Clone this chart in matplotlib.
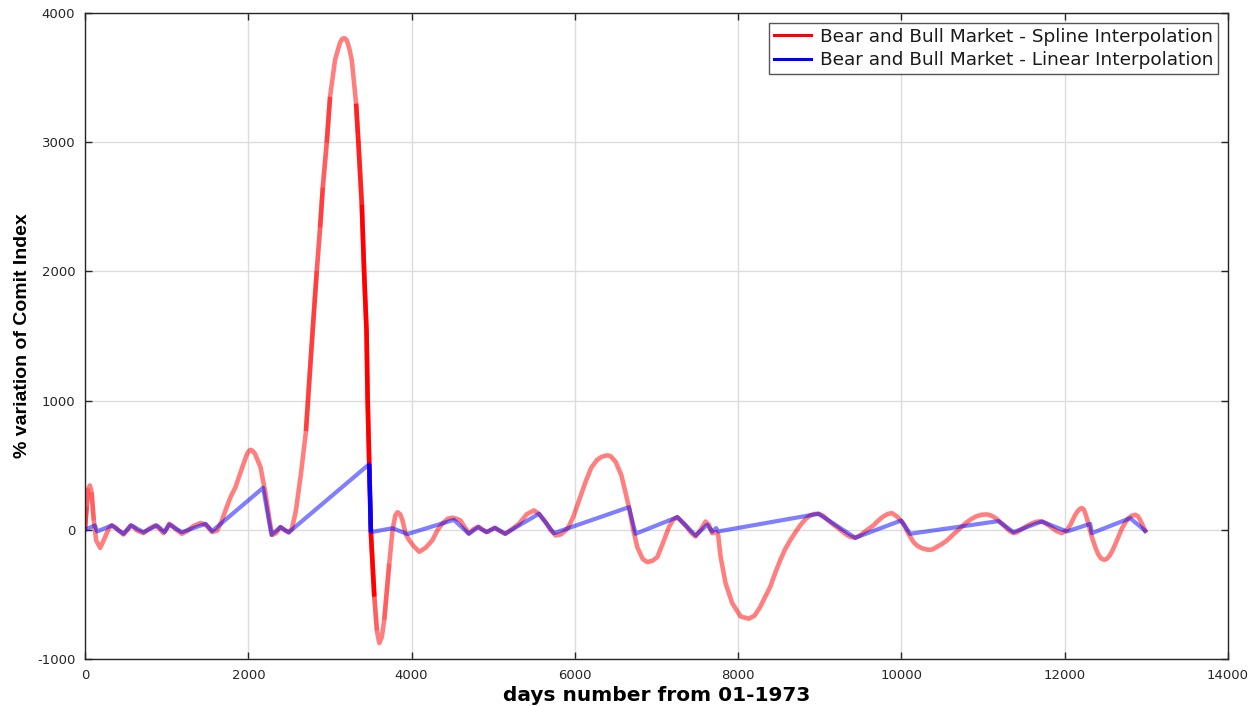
import numpy as np
import matplotlib
matplotlib.use("Agg")
import matplotlib.pyplot as plt
from matplotlib.collections import LineCollection
from matplotlib.lines import Line2D

plt.rcParams["axes.unicode_minus"] = False

# spline curve (day, % variation)
spline_days = [0, 20, 40, 59, 80, 107, 137, 186, 246, 290, 328, 370, 410, 471, 515, 561, 600, 635,
               716, 790, 859, 910, 961, 1000, 1031, 1070, 1104, 1186, 1250, 1330, 1414, 1476, 1520,
               1557, 1618, 1670, 1720, 1780, 1843, 1924, 1980, 2000, 2027, 2050, 2080, 2149, 2211,
               2260, 2292, 2341, 2394, 2447, 2495, 2534, 2583, 2644, 2706, 2746, 2787, 2838, 2879,
               2912, 2961, 3001, 3062, 3120, 3150, 3177, 3205, 3235, 3267, 3320, 3348, 3390, 3418,
               3448, 3461, 3481, 3501, 3543, 3575, 3604, 3635, 3665, 3726, 3766, 3800, 3828, 3860,
               3889, 3926, 3971, 4030, 4094, 4170, 4252, 4320, 4375, 4440, 4497, 4550, 4599, 4650,
               4701, 4760, 4816, 4870, 4926, 4975, 5020, 5085, 5150, 5230, 5314, 5410, 5498, 5559,
               5641, 5700, 5764, 5830, 5886, 5920, 5980, 6050, 6130, 6200, 6270, 6320, 6380, 6409,
               6440, 6500, 6570, 6630, 6662, 6715, 6764, 6830, 6886, 6950, 7009, 7080, 7152, 7200,
               7254, 7300, 7356, 7420, 7478, 7540, 7600, 7640, 7681, 7730, 7755, 7784, 7845, 7927,
               8029, 8131, 8200, 8269, 8330, 8391, 8450, 8514, 8575, 8636, 8700, 8759, 8820, 8881,
               8930, 8983, 9040, 9090, 9150, 9208, 9270, 9330, 9380, 9433, 9490, 9540, 9600, 9657,
               9710, 9770, 9830, 9882, 9950, 10024, 10085, 10147, 10190, 10240, 10290, 10331, 10380,
               10440, 10500, 10556, 10620, 10680, 10740, 10801, 10860, 10920, 10980, 11046, 11090,
               11130, 11170, 11209, 11250, 11290, 11330, 11372, 11410, 11450, 11500, 11550, 11600,
               11640, 11680, 11719, 11760, 11800, 11850, 11900, 11964, 12030, 12070, 12100, 12130,
               12160, 12185, 12209, 12230, 12250, 12275, 12300, 12325, 12350, 12380, 12410, 12445,
               12483, 12515, 12550, 12585, 12620, 12660, 12700, 12740, 12780, 12820, 12863, 12895,
               12920, 12950, 12985]
spline_vals = [5, 180, 320, 343, 290, 72, -83, -140, -57, 10, 34, 20, -5, -36, -5, 34, 20, -5,
               -26, 10, 34, 10, -26, 10, 46, 30, 8, -31, -10, 30, 52, 41, 10,
               -18, -5, 60, 150, 250, 330, 480, 580, 605, 619, 612, 590, 485, 279,
               72, -40, -25, 21, -5, -20, 8, 149, 431, 764, 1149, 1533, 2000, 2338,
               2649, 3000, 3351, 3636, 3765, 3800, 3805, 3790, 3730, 3636, 3299, 3000, 2519, 2000,
               1533, 1020, 508, -18, -518, -780, -877, -830, -697, -262, -5, 110, 136, 120,
               72, -31, -82, -130, -170, -140, -83, 0, 46, 85, 93, 85, 72, 20,
               -28, 5, 24, 0, -18, 0, 15, -10, -31, 5, 46, 120, 150, 124,
               60, 0, -44, -35, -5, 20, 100, 225, 370, 480, 540, 562, 575, 575,
               568, 525, 420, 260, 175, 0, -134, -225, -250, -240, -212, -100, 21, 75,
               98, 70, 34, -20, -52, 0, 64, 40, -26, -18, -39, -206, -413, -568,
               -671, -688, -665, -598, -520, -444, -340, -237, -150, -83, -20, 34, 80, 111,
               122, 124, 108, 80, 48, 21, -10, -40, -56, -62, -45, -20, 8, 34,
               68, 100, 122, 129, 100, 46, -30, -95, -122, -140, -150, -155, -152,
               -130, -108, -83, -45, -10, 25, 59, 85, 105, 116, 119, 112,
               100, 82, 59, 35, 10, -12, -25, -20, -5, 15, 35, 50,
               60, 64, 64, 52, 35, 12, -10, -26, 0, 40, 80, 118,
               145, 162, 168, 160, 130, 80, 20, -40, -90, -145, -190, -222,
               -232, -225, -200, -160, -110, -50, 10, 55, 90, 108, 116, 105,
               80, 40, -8]

# linear interpolation knots
linear_days = [0, 120, 148, 328, 471, 561, 716, 880, 974, 1031, 1186, 1476, 1557, 2181, 2283,
               2394, 2495, 3481, 3501, 3766, 3950, 4518, 4701, 4816, 4914, 5020, 5143, 5559,
               5743, 6662, 6743, 7254, 7478, 7620, 7681, 7730, 7755, 8983, 9433, 9996, 10106,
               11188, 11372, 11719, 12025, 12311, 12332, 12801, 12985]
linear_vals = [0, 34, -13, 34, -31, 34, -18, 34, -18, 41, -18, 46, -10, 325, -39,
               21, -20, 508, -18, 12, -33, 77, -31, 21, -18, 15, -31, 124,
               -26, 175, -31, 98, -44, 39, -13, 13, -13, 124, -62, 72, -31,
               67, -18, 64, -13, 46, -26, 90, -8]

labels = ["Bear and Bull Market - Spline Interpolation",
          "Bear and Bull Market - Linear Interpolation"]

BASE_ALPHA = 0.5


def steep_overlay(ax, x, y, color, lw):
    # steep pieces come out darker in the original renderer
    pts = ax.transData.transform(np.column_stack([x, y]))
    dx = np.abs(np.diff(pts[:, 0]))
    dy = np.abs(np.diff(pts[:, 1]))
    s = dy / np.maximum(dx, 1e-6)
    target = np.clip(BASE_ALPHA + (s - 9) / 22.0, BASE_ALPHA, 1.0)
    extra = 1 - (1 - target) / (1 - BASE_ALPHA)
    level = np.round(extra * 4) / 4
    # join neighbouring segments of the same level into one polyline
    runs = []
    i = 0
    n = len(level)
    while i < n:
        if level[i] <= 0:
            i += 1
            continue
        j = i
        while j + 1 < n and level[j + 1] == level[i]:
            j += 1
        runs.append((i, j, level[i]))
        i = j + 1
    segs = [np.column_stack([x[a:b + 2], y[a:b + 2]]) for a, b, _ in runs]
    cols = [matplotlib.colors.to_rgba(color, lv) for _, _, lv in runs]
    lc = LineCollection(segs, colors=cols, linewidths=lw, capstyle="butt", joinstyle="round")
    ax.add_collection(lc)


fig = plt.figure(figsize=(12.58, 7.06), dpi=100)
ax = fig.add_axes([0.0676, 0.0666, 0.9086, 0.915])
ax.set_xlim(0, 14000)
ax.set_ylim(-1000, 4000)

sx = np.array(spline_days, dtype=float)
sy = np.array(spline_vals, dtype=float)
lx = np.array(linear_days, dtype=float)
ly = np.array(linear_vals, dtype=float)

ax.plot(sx, sy, color="red", alpha=BASE_ALPHA, lw=3.3, solid_joinstyle="round")
steep_overlay(ax, sx, sy, "red", 3.3)
ax.plot(lx, ly, color="blue", alpha=BASE_ALPHA, lw=3.0, solid_joinstyle="round")
steep_overlay(ax, lx, ly, "blue", 3.0)

ax.set_xticks(np.arange(0, 14001, 2000))
ax.set_yticks(np.arange(-1000, 4001, 1000))
ax.grid(True, color="#dcdcdc", lw=1)
ax.set_axisbelow(True)
ax.tick_params(direction="in", top=True, right=True, length=5, width=1,
               labelsize=9.5, labelcolor="#262626", colors="#262626", pad=7)
for sp in ax.spines.values():
    sp.set_color("#262626")
    sp.set_linewidth(1.0)

ax.set_xlabel("days number from 01-1973", fontsize=14.5, fontweight="bold",
              family=["DejaVu Sans"], labelpad=3)
ax.set_ylabel("% variation of Comit Index", fontsize=14, fontweight="bold",
              family=["Liberation Sans Narrow", "Liberation Sans", "DejaVu Sans"], labelpad=4)

handles = [Line2D([], [], color="red", lw=2.2), Line2D([], [], color="blue", lw=2.2)]
leg = ax.legend(handles, labels, loc="upper right", fancybox=False,
                framealpha=1, edgecolor="#555555", handlelength=2.0, handletextpad=0.5,
                borderpad=0.25, labelspacing=0.3, borderaxespad=0.55,
                prop={"family": ["DejaVu Sans"], "size": 13.3})
leg.get_frame().set_linewidth(1.0)
for t in leg.get_texts():
    t.set_color("#1a1a1a")

fig.savefig("out.png", dpi=100)
